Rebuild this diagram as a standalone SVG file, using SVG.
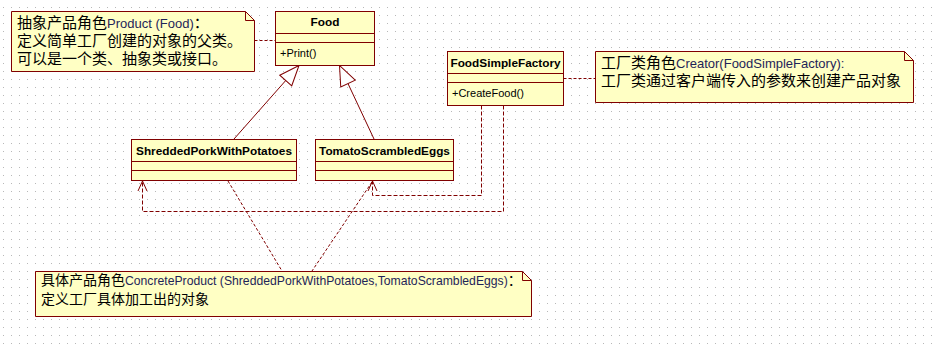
<svg xmlns="http://www.w3.org/2000/svg" width="934" height="349" viewBox="0 0 934 349">
<defs>
<pattern id="grid" x="3" y="7" width="8" height="8" patternUnits="userSpaceOnUse"><rect width="1" height="1" fill="#b8b8b8"/></pattern>
<marker id="tri" markerUnits="userSpaceOnUse" markerWidth="24" markerHeight="20" refX="21" refY="9" orient="auto" viewBox="0 0 24 20"><path d="M21,9 L1,1 L1,17 Z" fill="#ffffff" stroke="#800000" stroke-width="1"/></marker>
<marker id="open" markerUnits="userSpaceOnUse" markerWidth="14" markerHeight="12" refX="12" refY="6" orient="auto" viewBox="0 0 14 12"><path d="M2,1.5 L12,6 L2,10.5" fill="none" stroke="#800000" stroke-width="1"/></marker>
<style>
.box{fill:#ffffc4;stroke:#800000;stroke-width:1}
.sep{stroke:#800000;stroke-width:1;fill:none}
.cls{font-family:"Liberation Sans",Arial,sans-serif;font-size:11.8px;font-weight:bold;fill:#000}
.op{font-family:"Liberation Sans",Arial,sans-serif;font-size:11px;fill:#000}
.cjk{font-family:"Noto Sans CJK SC",sans-serif;font-size:15px;fill:#000}
.en{font-family:"Liberation Sans",Arial,sans-serif;font-size:13px;fill:#1e2458}
.dep{stroke:#800000;stroke-width:1;fill:none;stroke-dasharray:4 2}
.lnk{stroke:#800000;stroke-width:1;fill:none;stroke-dasharray:3 2}
.gen{stroke:#800000;stroke-width:1;fill:none}
</style>
</defs>
<rect width="934" height="349" fill="#ffffff"/>
<rect width="934" height="349" fill="url(#grid)"/>

<g id="connectors">
<line class="lnk" x1="254.5" y1="40.5" x2="275.5" y2="40.5"/>
<line class="lnk" x1="563.5" y1="78.5" x2="595.5" y2="78.5"/>
<line class="gen" x1="234" y1="139" x2="299" y2="65.5" marker-end="url(#tri)"/>
<line class="gen" x1="374" y1="139" x2="339.5" y2="65.5" marker-end="url(#tri)"/>
<path class="dep" d="M481.5,105.5 V195.5 H372.5 V181" marker-end="url(#open)"/>
<path class="dep" d="M503.5,105.5 V211.5 H142.5 V181" marker-end="url(#open)"/>
<line class="lnk" x1="228" y1="181" x2="282" y2="271"/>
<line class="lnk" x1="372" y1="182" x2="312" y2="271"/>
</g>

<g id="note-product">
<path class="box" d="M11.5,11.5 H245.5 L254.5,20.5 V71.5 H11.5 Z"/>
<path class="sep" d="M245.5,11.5 V20.5 H254.5"/>
<text x="17" y="28"><tspan class="cjk">抽象产品角色</tspan><tspan class="en">Product (Food)</tspan><tspan class="cjk">：</tspan></text>
<text x="17" y="46" class="cjk">定义简单工厂创建的对象的父类。</text>
<text x="17" y="64" class="cjk">可以是一个类、抽象类或接口。</text>
</g>

<g id="class-food">
<rect class="box" x="275.5" y="11.5" width="99" height="54"/>
<line class="sep" x1="275.5" y1="33.5" x2="374.5" y2="33.5"/>
<line class="sep" x1="275.5" y1="42.5" x2="374.5" y2="42.5"/>
<text x="325" y="26" class="cls" text-anchor="middle">Food</text>
<text x="280" y="57" class="op">+Print()</text>
</g>

<g id="class-factory">
<rect class="box" x="447.5" y="51.5" width="116" height="54"/>
<line class="sep" x1="447.5" y1="73.5" x2="563.5" y2="73.5"/>
<line class="sep" x1="447.5" y1="82.5" x2="563.5" y2="82.5"/>
<text x="505.5" y="66.5" class="cls" text-anchor="middle">FoodSimpleFactory</text>
<text x="452" y="96.5" class="op">+CreateFood()</text>
</g>

<g id="note-creator">
<path class="box" d="M595.5,51.5 H904.5 L913.5,60.5 V102.5 H595.5 Z"/>
<path class="sep" d="M904.5,51.5 V60.5 H913.5"/>
<text x="601" y="68"><tspan class="cjk">工厂类角色</tspan><tspan class="en">Creator(FoodSimpleFactory):</tspan></text>
<text x="601" y="86" class="cjk">工厂类通过客户端传入的参数来创建产品对象</text>
</g>

<g id="class-shredded">
<rect class="box" x="131.5" y="139.5" width="165" height="41"/>
<line class="sep" x1="131.5" y1="161.5" x2="296.5" y2="161.5"/>
<line class="sep" x1="131.5" y1="170.5" x2="296.5" y2="170.5"/>
<text x="214" y="154.5" class="cls" text-anchor="middle">ShreddedPorkWithPotatoes</text>
</g>

<g id="class-tomato">
<rect class="box" x="315.5" y="139.5" width="138" height="41"/>
<line class="sep" x1="315.5" y1="161.5" x2="453.5" y2="161.5"/>
<line class="sep" x1="315.5" y1="170.5" x2="453.5" y2="170.5"/>
<text x="384.5" y="154.5" class="cls" text-anchor="middle">TomatoScrambledEggs</text>
</g>

<g id="note-concrete">
<path class="box" d="M35.5,271.5 H522.5 L531.5,280.5 V316.5 H35.5 Z"/>
<path class="sep" d="M522.5,271.5 V280.5 H531.5"/>
<text x="41" y="285"><tspan class="cjk" style="font-size:14px">具体产品角色</tspan><tspan class="en" style="font-size:12.2px">ConcreteProduct (ShreddedPorkWithPotatoes,TomatoScrambledEggs)</tspan><tspan class="cjk" style="font-size:14px">：</tspan></text>
<text x="41" y="304" class="cjk" style="font-size:14px">定义工厂具体加工出的对象</text>
</g>
</svg>
